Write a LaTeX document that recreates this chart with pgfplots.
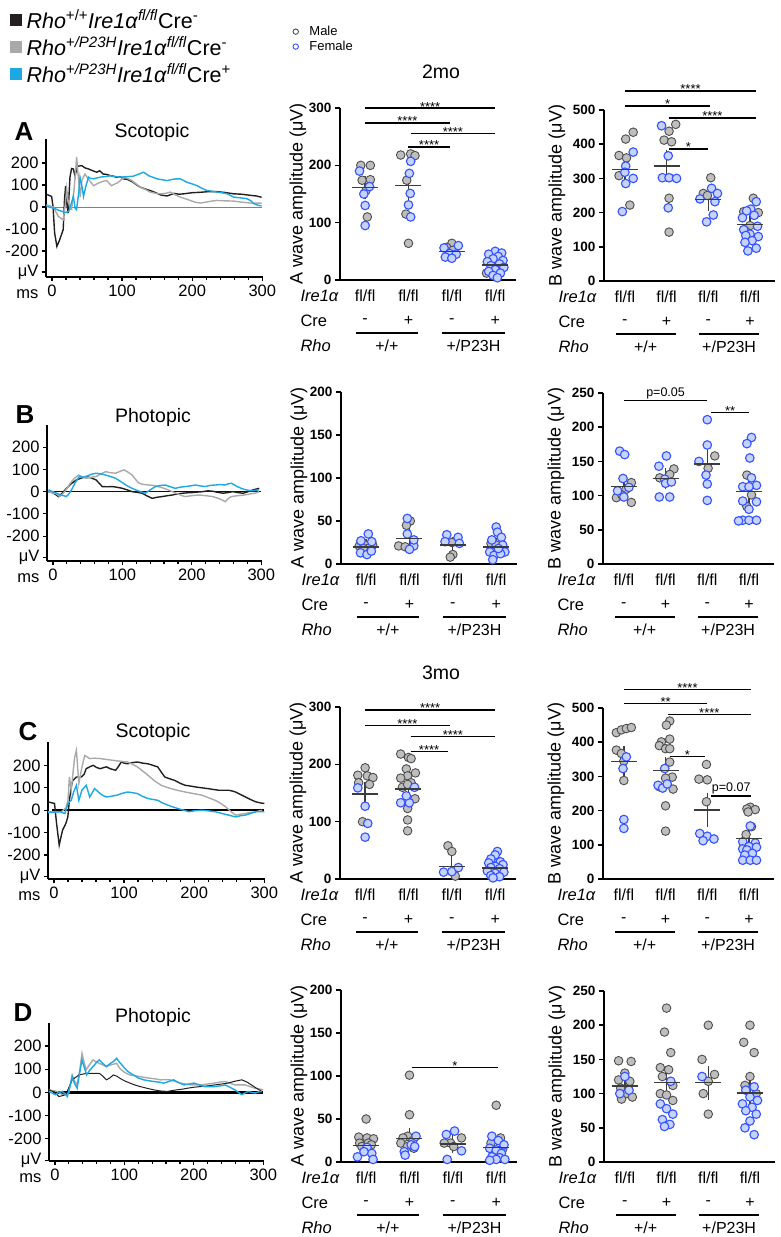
\documentclass[border=0pt]{standalone}
\usepackage{pgfplots}
\pgfplotsset{compat=1.18}
\usepackage{fontspec}
\setmainfont{Liberation Sans}

\definecolor{mfill}{HTML}{BEBEBE}
\definecolor{medge}{HTML}{4D4D4D}
\definecolor{ffill}{HTML}{C6D2FF}
\definecolor{fedge}{HTML}{3352FF}
\definecolor{tblue}{HTML}{1BA8E3}
\definecolor{tgray}{HTML}{A9A9A9}
\definecolor{tblack}{HTML}{231F20}
\definecolor{meanc}{HTML}{3C3C3C}

\newcommand{\fs}[1]{\fontsize{#1}{#1}\selectfont}

\pgfplotsset{
  trace/.style={scale only axis, anchor=south west, clip=false,
    xmin=-8.5, xmax=301,
    axis x line*=bottom, axis y line*=left,
    axis line style={-, line width=1.6pt, black},
    xtick={0,100,200,300}, minor x tick num=4,
    ytick={-295,-200,-100,0,100,200},
    yticklabels={μV,-200,-100,0,100,200},
    tick align=outside, major tick length=4pt, minor tick length=3pt,
    tick style={black, line width=1.2pt},
    ticklabel style={font=\fs{16.5}},
    /pgf/number format/assume math mode=true},
  scat/.style={scale only axis, anchor=south west, clip=false, ymin=0,
    axis x line*=bottom, axis y line*=left,
    axis line style={-, line width=1.8pt, black},
    xtick={1,2,3,4}, xticklabels={fl/fl,fl/fl,fl/fl,fl/fl},
    xtick align=inside, x tick style={draw=none},
    xticklabel style={anchor=center, yshift=-16pt, font=\fs{16}},
    ytick align=outside, major tick length=5pt,
    y tick style={black, line width=1.5pt},
    yticklabel style={font=\bfseries\fs{13.5}},
    /pgf/number format/assume math mode=true},
  mid/.style={scat, width=176pt, height=172pt, xmin=0.42, xmax=4.48,
    every axis y label/.style={at={([xshift=-42pt]rel axis cs:0,0.5)}, rotate=90, anchor=center, font=\fs{18}}},
  rgt/.style={scat, width=171pt, height=171pt, xmin=0.5, xmax=4.6,
    every axis y label/.style={at={([xshift=-47pt]rel axis cs:0,0.5)}, rotate=90, anchor=center, font=\fs{18}}},
  male/.style={only marks, mark=*, mark size=4.3pt, mark options={fill=mfill, draw=medge, line width=0.9pt}},
  female/.style={only marks, mark=*, mark size=4.3pt, mark options={fill=ffill, draw=fedge, line width=1.1pt}},
  meanbar/.style={only marks, mark=-, mark size=13pt, mark options={draw=meanc, line width=1.4pt},
    error bars/y dir=both, error bars/y explicit,
    error bars/error bar style={draw=meanc, line width=1.3pt},
    error bars/error mark options={draw=meanc, line width=1.3pt, mark size=6pt}},
}

\newcommand{\genorows}[1]{%
  \node[anchor=west, font=\fs{16.5}\itshape] at ([xshift=#1,yshift=-16pt]rel axis cs:0,0) {Ire1α};
  \node[anchor=west, font=\fs{16.5}] at ([xshift=#1,yshift=-41pt]rel axis cs:0,0) {Cre};
  \node[anchor=west, font=\fs{16.5}\itshape] at ([xshift=#1,yshift=-66pt]rel axis cs:0,0) {Rho};
  \node[font=\fs{16}] at ([yshift=-41pt]axis cs:1,0) {-};
  \node[font=\fs{16}] at ([yshift=-41pt]axis cs:2,0) {+};
  \node[font=\fs{16}] at ([yshift=-41pt]axis cs:3,0) {-};
  \node[font=\fs{16}] at ([yshift=-41pt]axis cs:4,0) {+};
  \draw[line width=1.3pt] ([yshift=-53pt]axis cs:0.78,0) -- ([yshift=-53pt]axis cs:2.22,0);
  \draw[line width=1.3pt] ([yshift=-53pt]axis cs:2.78,0) -- ([yshift=-53pt]axis cs:4.22,0);
  \node[font=\fs{16}] at ([yshift=-66pt]axis cs:1.5,0) {+/+};
  \node[font=\fs{16}] at ([yshift=-66pt]axis cs:3.5,0) {+/P23H};
}
\newcommand{\sig}[4]{\draw[line width=1.3pt] (axis cs:#1,#3) -- (axis cs:#2,#3) node[midway, anchor=base, yshift=-3pt, font=\fs{13}] {#4};}
\newcommand{\sigp}[4]{\draw[line width=1.3pt] (axis cs:#1,#3) -- (axis cs:#2,#3) node[midway, anchor=base, yshift=4pt, font=\fs{12.5}] {#4};}
\newcommand{\msnode}{\node[anchor=base east, font=\fs{16.5}] at ([xshift=-4pt,yshift=-21pt]rel axis cs:0,0) {ms};}

\begin{document}
\begin{tikzpicture}
\path[use as bounding box] (0pt,0pt) rectangle (780pt,-1237pt);

%%%%%%%%%%%%%%%% ROW A trace
\begin{axis}[trace, at={(46pt,-277pt)}, width=217pt, height=138pt, ymin=-318, ymax=309,
  legend style={at={(rel axis cs:-0.18,1.965)}, anchor=north west, draw=none, fill=none,
    font=\fs{21.5}, row sep=3pt, /tikz/every odd column/.append style={column sep=3pt}},
  legend cell align=left]
\addlegendimage{legend image code/.code={\fill[tblack] (0pt,-5.5pt) rectangle (11pt,5.5pt);}}
\addlegendimage{legend image code/.code={\fill[tgray] (0pt,-5.5pt) rectangle (11pt,5.5pt);}}
\addlegendimage{legend image code/.code={\fill[tblue] (0pt,-5.5pt) rectangle (11pt,5.5pt);}}
\addplot[gray, line width=1pt] coordinates {(-3,0)(300,0)};
\addplot[tblack, line width=1.4pt] coordinates {(-8,58)(-0.5,48)(1.5,3)(3.8,-118)(7,-179)(11,-149)(16,-103)(18,40)(19.5,95)(21,20)(23,-28)(25.7,136)(28,175)(30.5,173)(33,140)(36,185)(42.6,188)(47,178)(52,173)(58,165)(64,158)(68,165)(73,150)(78,148)(83,143)(88,140)(92,135)(97,138)(102,128)(108,125)(116,112)(121,100)(126,90)(133,82)(140,75)(148,65)(155,55)(164,50)(174,62)(181,58)(188,60)(200,65)(212,67)(224,70)(235,70)(247,66)(259,60)(271,58)(283,53)(292,50)(299,44)};
\addplot[tgray, line width=1.4pt] coordinates {(-8,10)(2,0)(9,-43)(16,-58)(19,10)(21,83)(23,30)(26,-10)(28,-10)(31.5,77)(35.2,227)(38,120)(40.3,45)(42.6,120)(47,150)(52,127)(56,110)(59.5,97)(64,105)(69,112)(74,118)(78,120)(85,97)(90,105)(94.7,112)(99,125)(104,135)(109,128)(114,120)(120,105)(126,90)(133,80)(140,68)(148,62)(155,60)(162,62)(169,68)(176,55)(183,45)(190,38)(197,30)(204,22)(212,18)(221,23)(228,27)(235,30)(247,28)(259,27)(271,22)(283,18)(299,18)};
\addplot[tblue, line width=1.4pt] coordinates {(-8,3)(2.4,-5)(10,-15)(19,-25)(24,-20)(27,10)(30.5,48)(33,-5)(35,-12)(38,60)(40,136)(43,90)(45,48)(48,90)(52,136)(55,130)(59.5,128)(64,132)(69,136)(76,138)(83,142)(90,138)(98,136)(107,138)(116,140)(124,150)(131,158)(138,142)(144,135)(150,128)(157,124)(164,120)(171,125)(177,128)(183,128)(188,120)(193,112)(200,105)(207,97)(214,85)(221,75)(228,72)(235,68)(242,65)(250,60)(255,52)(259,45)(268,42)(278,38)(284,28)(288,15)(294,8)(299,5)};
\legend{\textit{Rho}\textsuperscript{+/+}\textit{Ire1α}\textsuperscript{\textit{fl/fl}}Cre\textsuperscript{-},
        \textit{Rho}\textsuperscript{\textit{+/P23H}}\textit{Ire1α}\textsuperscript{\textit{fl/fl}}Cre\textsuperscript{-},
        \textit{Rho}\textsuperscript{\textit{+/P23H}}\textit{Ire1α}\textsuperscript{\textit{fl/fl}}Cre\textsuperscript{+}}
\msnode
\end{axis}

%%%%%%%%%%%%%%%% ROW A middle
\begin{axis}[mid, at={(340pt,-280pt)}, ymax=300, ytick={0,100,200,300},
  ylabel={A wave amplitude (μV)},
  legend style={at={(rel axis cs:-0.285,1.50)}, anchor=north west, draw=none, fill=none,
    font=\fs{13}, row sep=0pt, /tikz/every odd column/.append style={column sep=9pt}},
  legend cell align=left]
\addlegendimage{only marks, mark=o, mark size=2.7pt, mark options={draw=medge, line width=0.9pt}}
\addlegendimage{only marks, mark=o, mark size=2.7pt, mark options={draw=fedge, line width=0.9pt}}
\addplot[male] coordinates {(0.9,200)(1.12,200)(0.93,174)(1.12,175)(1.02,156)(1.05,110)(1.82,218)(2.05,220)(2.15,217)(1.96,174)(1.94,115)(2.0,64)(3.0,64)(2.88,57)(3.03,52)(4.05,30)(3.8,12)(3.98,22)};
\addplot[female] coordinates {(0.87,190)(1.1,163)(0.97,150)(1.0,130)(1.0,95)(2.05,207)(2.02,186)(2.04,151)(2.0,131)(2.05,110)(3.15,60)(2.82,56)(2.95,46)(3.1,45)(2.85,40)(3.0,38)(4.0,50)(4.15,47)(3.85,45)(4.07,41)(3.95,37)(4.18,34)(3.82,32)(4.1,28)(3.9,25)(4.2,22)(4.0,18)(3.85,15)(4.12,12)(3.95,8)(4.05,4)};
\addplot[meanbar] coordinates {(1,161) +- (0,10) (2,165) +- (0,15) (3,50) +- (0,3) (4,26) +- (0,3)};
\legend{Male,Female}
\sig{1}{4}{300}{****}
\sig{1}{2.95}{274}{****}
\sig{2.05}{4}{255}{****}
\sig{2}{2.95}{232}{****}
\genorows{-43pt}
\end{axis}

%%%%%%%%%%%%%%%% ROW A right
\begin{axis}[rgt, at={(604pt,-281pt)}, ymax=500, ytick={0,100,...,500},
  ylabel={B wave amplitude (μV)}]
\addplot[male] coordinates {(1.2,435)(1.02,415)(0.86,367)(1.04,360)(0.86,308)(1.12,222)(2.22,458)(2.06,438)(1.94,412)(2.12,407)(2.06,242)(2.06,143)(3.06,302)(2.88,256)(2.98,250)(4.08,242)(3.85,203)(4.2,200)(4.0,162)(3.9,145)};
\addplot[female] coordinates {(1.2,377)(1.02,336)(1.0,318)(1.2,300)(1.02,285)(0.94,203)(1.88,454)(2.04,366)(1.9,302)(2.06,302)(2.24,300)(2.04,214)(3.08,271)(2.8,240)(3.22,256)(3.16,232)(3.12,193)(2.96,173)(4.15,232)(4.02,210)(3.92,205)(4.1,192)(3.82,185)(4.18,160)(3.85,150)(4.0,137)(3.9,133)(4.2,130)(4.05,118)(3.88,113)(4.15,96)(3.95,88)};
\addplot[meanbar] coordinates {(1,326) +- (0,20) (2,336) +- (0,30) (3,238) +- (0,15) (4,166) +- (0,10)};
\sig{1}{4.15}{556}{****}
\sig{1}{3.05}{512}{*}
\sig{2.05}{4.15}{477}{****}
\sig{2.05}{3.0}{386}{*}
\genorows{-49pt}
\end{axis}

%%%%%%%%%%%%%%%% ROW B trace
\begin{axis}[trace, at={(47pt,-561pt)}, width=215pt, height=136pt, ymin=-312, ymax=300]
\addplot[black!70!red!60!black, line width=1pt] coordinates {(-3,0)(300,0)};
\addplot[tblack, line width=1.4pt] coordinates {(-6.5,0)(0,-5)(8,-22)(14,-5)(19.5,15)(26,35)(34,53)(40,60)(47.6,68)(55,62)(62,53)(66,40)(71,23)(78,22)(85.6,23)(92,20)(100,15)(107,8)(114,0)(121,-3)(128.6,-7)(136,-20)(143,-30)(150,-25)(157.6,-22)(165,-18)(172,-15)(179,-10)(186.5,-7)(194,-5)(201,-4)(208,-2)(215.5,0)(223,4)(230,2)(237,-3)(244.7,-7)(252,-4)(259,0)(266,-4)(274,-7)(281,0)(288,8)(297,15)};
\addplot[tgray, line width=1.4pt] coordinates {(-6.5,0)(5,-10)(10,-22)(17,0)(25,38)(31,60)(37,75)(42,68)(47.6,60)(55,65)(62,68)(69,80)(76,90)(83,85)(90.5,83)(97,92)(102.6,98)(108,88)(114,75)(119,55)(124,38)(131,32)(138,30)(145,28)(152,23)(160,15)(166,8)(172,0)(180,-10)(186,-18)(190.5,-22)(200,-18)(210,-15)(220,-18)(230,-22)(238,-30)(244,-38)(248,-45)(252,-32)(257,-22)(266,-18)(276,-15)(284,-10)(291,-7)(297,0)};
\addplot[tblue, line width=1.4pt] coordinates {(-6.5,8)(5.3,-7)(12,-15)(19.5,-22)(23,-10)(26.7,8)(32,40)(38,68)(43,65)(47.6,68)(55,78)(62,83)(69,80)(76,75)(83,68)(90.5,60)(98,45)(105,30)(112,18)(119,8)(126,0)(133,-7)(140,8)(147.6,23)(155,28)(162,30)(169,22)(176,15)(183,20)(190.5,23)(198,26)(205,30)(212,26)(219,23)(226,28)(233.6,30)(241,32)(248,30)(252,35)(257,38)(264,25)(271,15)(278,8)(285,4)(291,6)(297,8)};
\msnode
\end{axis}

%%%%%%%%%%%%%%%% ROW B middle
\begin{axis}[mid, at={(341pt,-564pt)}, ymax=200, ytick={0,50,...,200},
  ylabel={A wave amplitude (μV)}]
\addplot[male] coordinates {(0.98,22)(1.15,22)(0.84,21)(1.0,17)(1.08,19)(0.93,18)(2.02,50)(1.93,45)(1.75,21)(1.9,20)(2.98,25)(3.0,11)(2.94,8)(3.88,24)(4.0,22)(4.08,17)};
\addplot[female] coordinates {(1.05,35)(0.88,27)(1.13,26)(0.87,13)(1.02,11)(1.12,15)(1.95,53)(1.95,35)(2.1,21)(2.0,17)(2.1,28)(2.86,34)(3.12,31)(2.82,26)(3.15,24)(4.0,43)(4.03,37)(4.12,31)(3.9,28)(4.15,22)(3.85,14)(4.2,14)(3.95,10)(4.1,12)(4.05,18)(3.92,5)};
\addplot[meanbar] coordinates {(1,20) +- (0,2) (2,30) +- (0,5) (3,22) +- (0,3) (4,20) +- (0,3)};
\genorows{-43pt}
\end{axis}

%%%%%%%%%%%%%%%% ROW B right
\begin{axis}[rgt, at={(603pt,-564pt)}, ymax=250, ytick={0,50,...,250},
  ylabel={B wave amplitude (μV)}]
\addplot[male] coordinates {(1.18,119)(1.05,109)(0.82,97)(1.18,90)(0.95,101)(2.2,139)(1.86,126)(2.1,131)(3.18,158)(3.02,140)(3.95,130)(4.06,101)(3.95,84)};
\addplot[female] coordinates {(0.9,165)(1.02,160)(0.98,125)(1.12,112)(0.85,107)(1.0,98)(2.02,158)(1.84,143)(1.98,124)(2.0,118)(1.85,98)(2.1,98)(2.14,120)(3.0,211)(3.0,174)(2.8,150)(2.97,130)(3.0,117)(3.0,93)(4.06,185)(3.95,176)(4.02,155)(4.06,126)(3.85,113)(4.18,115)(4.0,113)(3.85,92)(4.18,91)(4.0,80)(3.85,64)(4.0,64)(4.18,64)(3.75,63)};
\addplot[meanbar] coordinates {(1,113) +- (0,7) (2,125) +- (0,6) (3,146) +- (0,12) (4,106) +- (0,8)};
\sigp{1}{3.0}{239}{p=0.05}
\sig{3.1}{4.0}{222}{**}
\genorows{-49pt}
\end{axis}

%%%%%%%%%%%%%%%% ROW C trace
\begin{axis}[trace, at={(48pt,-879pt)}, width=217pt, height=137pt, ymin=-307, ymax=304]
\addplot[black, line width=1.4pt] coordinates {(-3,0)(300,0)};
\addplot[tblack, line width=1.4pt] coordinates {(-8.6,37)(0.8,30)(3.7,-59)(7.5,-156)(10,-120)(12.3,-89)(17,-59)(19.8,-30)(22,44)(25,110)(27,133)(32,148)(39,148)(43,160)(46,185)(52,195)(56,200)(61,190)(66,185)(71,190)(75,193)(80,185)(88,178)(92,195)(96,215)(100,210)(105,207)(112,212)(119,215)(126,210)(134,207)(141,200)(148,193)(153,170)(158,148)(165,140)(172,133)(180,120)(187,111)(194,108)(201,104)(210,100)(220,96)(228,92)(235,89)(242,89)(249,89)(255,85)(259,81)(266,70)(273,59)(280,48)(288,37)(295,32)(300,30)};
\addplot[tgray, line width=1.4pt] coordinates {(-8.6,-7)(10.6,-7)(17,10)(20,44)(22,148)(24.6,89)(27,160)(29.5,237)(32,267)(35.5,119)(39,178)(42,220)(44,244)(47,238)(51,230)(58,232)(66,230)(75,226)(85,222)(95,218)(105,215)(112,205)(119,193)(126,176)(134,156)(143,132)(153,111)(160,103)(167,96)(177,88)(187,81)(199,74)(211,67)(220,56)(230,44)(238,30)(244.7,15)(252,-5)(259,-22)(266,-18)(273,-15)(280,-10)(288,-7)(297,0)};
\addplot[tblue, line width=1.4pt] coordinates {(-8.6,-11)(8.3,-7)(15.6,-15)(18,10)(20,30)(24.6,44)(28,80)(32,111)(35.5,44)(40,90)(43,100)(46,111)(49,80)(51,59)(55,80)(58,96)(62,85)(66,74)(70,65)(75,59)(82,62)(90,67)(97,75)(105,81)(112,78)(119,74)(126,62)(134,52)(141,48)(148,44)(155,32)(163,22)(170,14)(177,7)(185,0)(192,-7)(200,-3)(211,0)(220,-3)(230,-7)(240,-15)(249,-22)(259,-30)(266,-25)(273,-22)(280,-15)(288,-7)(300,-7)};
\msnode
\end{axis}

%%%%%%%%%%%%%%%% ROW C middle
\begin{axis}[mid, at={(340pt,-879pt)}, ymax=300, ytick={0,100,200,300},
  ylabel={A wave amplitude (μV)}]
\addplot[male] coordinates {(1.0,194)(0.83,181)(1.05,180)(1.18,177)(0.85,168)(1.1,165)(0.94,100)(1.82,218)(2.0,212)(2.06,210)(1.95,192)(2.16,185)(1.98,180)(1.82,176)(2.06,168)(1.86,160)(1.98,165)(2.15,140)(1.98,123)(1.98,103)(1.98,84)(2.91,58)(3.0,48)(3.08,5)(4.05,32)(3.88,24)(4.15,15)(3.95,8)};
\addplot[female] coordinates {(0.83,159)(1.0,127)(1.06,97)(1.0,73)(2.14,160)(1.82,133)(2.02,133)(1.95,145)(2.81,12)(3.0,13)(3.15,20)(4.05,48)(4.0,42)(3.9,35)(4.12,30)(3.85,28)(4.18,25)(4.0,22)(3.9,20)(4.1,18)(3.82,14)(4.2,12)(4.0,10)(3.9,6)(4.1,4)(3.95,2)};
\addplot[meanbar] coordinates {(1,148) +- (0,11) (2,157) +- (0,8) (3,22) +- (0,7) (4,19) +- (0,3)};
\sig{1}{4}{295}{****}
\sig{1}{2.95}{268}{****}
\sig{2.05}{4}{248}{****}
\sig{2.05}{2.9}{222}{****}
\genorows{-43pt}
\end{axis}

%%%%%%%%%%%%%%%% ROW C right
\begin{axis}[rgt, at={(603pt,-879pt)}, ymax=500, ytick={0,100,...,500},
  ylabel={B wave amplitude (μV)}]
\addplot[male] coordinates {(0.82,428)(0.94,436)(1.06,440)(1.18,443)(0.82,377)(0.94,367)(1.0,345)(1.0,288)(2.1,462)(2.02,450)(1.9,401)(2.1,409)(1.85,390)(2.0,381)(2.1,381)(2.1,342)(2.16,298)(2.0,295)(1.85,270)(2.18,263)(2.0,214)(2.0,140)(2.98,335)(2.8,292)(3.0,290)(2.98,226)(4.03,210)(3.95,205)(4.15,203)(3.98,196)(4.06,153)(3.93,130)};
\addplot[female] coordinates {(1.06,357)(0.98,323)(1.0,174)(1.0,148)(1.98,323)(1.82,274)(1.93,266)(2.04,278)(2.82,133)(3.0,125)(3.16,117)(2.9,112)(4.03,155)(3.85,109)(4.15,105)(4.0,95)(4.18,93)(3.85,88)(3.95,85)(4.08,75)(3.9,70)(3.85,55)(4.03,55)(4.18,55)};
\addplot[meanbar] coordinates {(1,344) +- (0,27) (2,318) +- (0,20) (3,202) +- (0,33) (4,119) +- (0,10)};
\sig{1}{4.05}{554}{****}
\sig{1}{3.0}{513}{**}
\sig{2.05}{4.05}{481}{****}
\sig{2.1}{2.95}{359}{*}
\sigp{3.1}{4.05}{243}{p=0.07}
\genorows{-49pt}
\end{axis}

%%%%%%%%%%%%%%%% ROW D trace
\begin{axis}[trace, at={(49pt,-1161pt)}, width=215pt, height=138pt, ymin=-296, ymax=299]
\addplot[black, line width=3pt] coordinates {(-3,0)(300,0)};
\addplot[tgray, line width=1.4pt] coordinates {(-8.7,11)(3.3,4)(10.6,-10)(20,-3)(22,30)(24.9,75)(28,50)(32,32)(36,100)(39,168)(42,130)(45,97)(50,120)(55,140)(60,130)(64,125)(69,118)(74,111)(80,118)(85,122)(88.8,125)(93,105)(98.5,90)(103,82)(108,75)(115,72)(122.6,68)(130,64)(137,61)(145,58)(152,54)(159,55)(166,54)(173,47)(181,40)(188,36)(196,32)(203,32)(210,32)(220,36)(230,40)(237,44)(244.7,47)(252,40)(259,32)(266,32)(273.6,32)(281,25)(288,18)(295,14)(300,11)};
\addplot[tblack, line width=1pt] coordinates {(-8.7,11)(0,0)(5.8,-18)(10,-15)(15.5,-10)(20,20)(24.9,54)(30,65)(34.6,75)(42,80)(49,82)(56,82)(64,82)(69,70)(74,54)(79,62)(84,75)(89,70)(93.5,61)(100,50)(108,40)(115,32)(122.6,25)(132,18)(142,11)(152,6)(162,4)(169,8)(176,11)(184,14)(191,18)(200,22)(210,25)(220,28)(230,32)(240,36)(249,40)(259,48)(269,54)(276,45)(283,32)(290,18)(298,4)};
\addplot[tblue, line width=1.4pt] coordinates {(-8.7,4)(1,-10)(5,0)(10.6,4)(14,-5)(18,-18)(21,20)(24.9,68)(28,40)(32,18)(36,90)(39,140)(42,110)(45.7,75)(50,95)(57,118)(60,130)(64,140)(69,125)(74,111)(80,125)(85,135)(88.8,147)(93,130)(98.5,111)(105,90)(113,75)(120,62)(128,54)(135,50)(142,47)(150,44)(157,40)(164,47)(171,54)(178,42)(186,32)(193,36)(200.5,40)(208,32)(215,25)(222,25)(230,25)(238,28)(245,32)(252,22)(259,11)(264,0)(269,-10)(274,-2)(278.5,4)(283,0)(288,-3)(293,2)(298,4)};
\msnode
\end{axis}

%%%%%%%%%%%%%%%% ROW D middle
\begin{axis}[mid, at={(341pt,-1162pt)}, ymax=200, ytick={0,50,...,200},
  ylabel={A wave amplitude (μV)}]
\addplot[male] coordinates {(1.0,50)(0.83,29)(1.02,28)(1.17,27)(1.05,22)(0.85,22)(0.9,18)(1.12,20)(2.0,101)(2.0,55)(1.96,30)(1.85,28)(2.08,25)(1.8,22)(1.95,18)(2.1,16)(3.2,28)(2.95,22)(2.8,22)(3.02,18)(4.0,66)(4.1,28)(3.88,22)(4.15,15)(3.95,8)};
\addplot[female] coordinates {(1.02,17)(1.13,10)(0.8,6)(1.16,3)(0.95,12)(2.15,30)(2.04,20)(1.88,12)(2.12,18)(1.9,8)(2.85,32)(3.04,36)(3.2,13)(2.87,3)(3.9,30)(4.05,25)(4.18,20)(3.85,16)(4.0,14)(4.12,10)(3.9,6)(4.08,5)(4.0,3)(3.85,2)(4.2,3)};
\addplot[meanbar] coordinates {(1,19.5) +- (0,3) (2,27) +- (0,6) (3,21) +- (0,4) (4,17) +- (0,4)};
\sig{2.05}{4.05}{110}{*}
\genorows{-43pt}
\end{axis}

%%%%%%%%%%%%%%%% ROW D right
\begin{axis}[rgt, at={(604pt,-1162pt)}, ymax=250, ytick={0,50,...,250},
  ylabel={B wave amplitude (μV)}]
\addplot[male] coordinates {(0.85,148)(1.15,147)(1.0,130)(0.85,120)(1.12,118)(0.9,108)(1.05,100)(1.18,95)(0.92,92)(2.0,225)(1.95,190)(2.1,160)(1.85,138)(2.05,135)(1.9,125)(2.15,112)(1.85,100)(2.0,98)(2.15,90)(3.0,200)(2.85,150)(3.15,128)(3.0,118)(2.88,100)(3.0,70)(4.0,200)(3.85,175)(4.1,160)(4.0,125)(3.88,112)(4.15,100)};
\addplot[female] coordinates {(1.0,125)(1.1,105)(0.88,100)(2.1,118)(1.85,85)(2.0,78)(2.15,70)(1.9,62)(2.08,55)(1.95,52)(2.85,125)(4.1,110)(3.9,105)(4.0,95)(4.18,90)(3.82,85)(4.05,80)(3.9,75)(4.15,70)(4.0,60)(3.88,50)(4.1,40)};
\addplot[meanbar] coordinates {(1,111) +- (0,7) (2,116) +- (0,11) (3,116) +- (0,16) (4,101) +- (0,9)};
\genorows{-49pt}
\end{axis}

%%%%%%%%%%%%%%%% titles
\node[font=\bfseries\fs{26}] at (24pt,-132pt) {A};
\node[font=\fs{19.5}] at (152pt,-132pt) {Scotopic};
\node[font=\bfseries\fs{26}] at (25pt,-415pt) {B};
\node[font=\fs{19.5}] at (153pt,-417pt) {Photopic};
\node[font=\bfseries\fs{26}] at (28pt,-732pt) {C};
\node[font=\fs{19.5}] at (153pt,-732pt) {Scotopic};
\node[font=\bfseries\fs{26}] at (23pt,-1013pt) {D};
\node[font=\fs{19.5}] at (153pt,-1017pt) {Photopic};
\node[font=\fs{19.5}] at (441pt,-72pt) {2mo};
\node[font=\fs{19.5}] at (441pt,-673pt) {3mo};
\end{tikzpicture}
\end{document}
